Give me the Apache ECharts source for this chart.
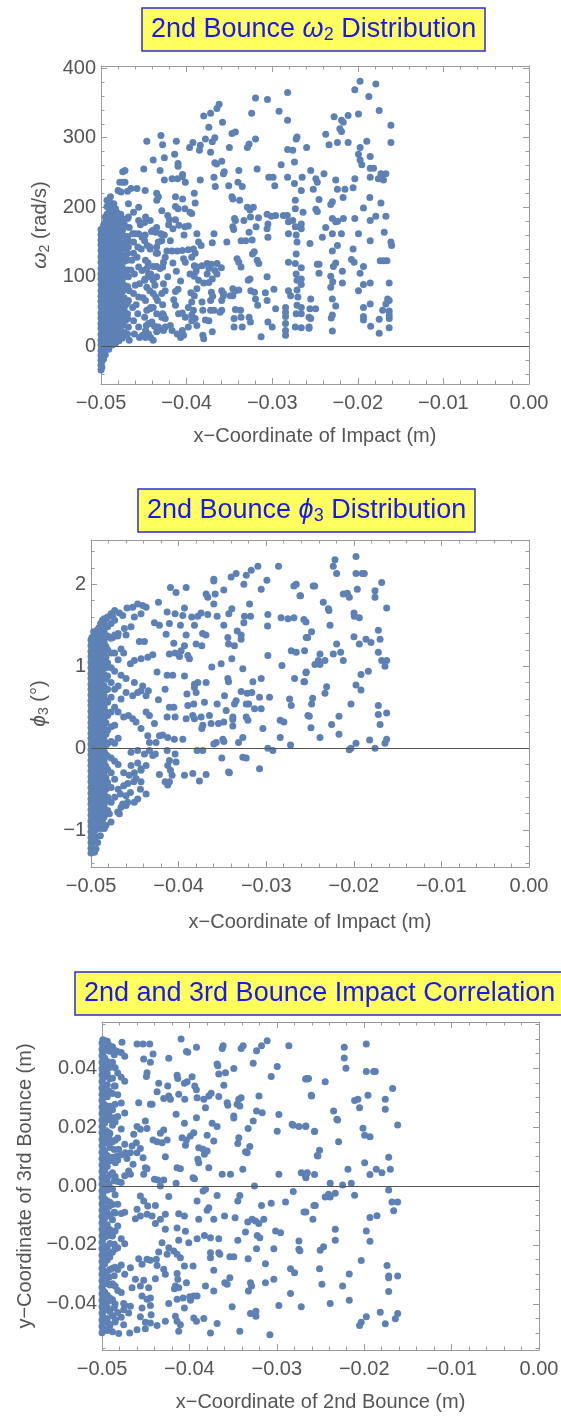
<!DOCTYPE html>
<html>
<head>
<meta charset="utf-8">
<script src="https://cdn.jsdelivr.net/npm/echarts@6.0.0/dist/echarts.min.js"></script>
<style>
  html, body { margin: 0; padding: 0; background: #fff; }
  #chart { width: 561px; height: 1418px; }
</style>
</head>
<body>
<div id="chart"></div>
<script>
// ---- axes / ticks ----
const xRange = [-0.05, 0];
const xTicks = [-0.05, -0.04, -0.03, -0.02, -0.01, 0];
const xTickLabels = ['−0.05', '−0.04', '−0.03', '−0.02', '−0.01', '0.00'];

const omegaRange = [-54, 403];
const omegaTicks = [0, 100, 200, 300, 400];
const omegaTickLabels = ['0', '100', '200', '300', '400'];

const phiRange = [-1.45, 2.54];
const phiTicks = [-1, 0, 1, 2];
const phiTickLabels = ['−1', '0', '1', '2'];

const impactRange = [-0.0557, 0.0557];
const impactTicks = [-0.04, -0.02, 0, 0.02, 0.04];
const impactTickLabels = ['−0.04', '−0.02', '0.00', '0.02', '0.04'];

// ---- panel 1: omega2 (rad/s) vs x of impact (m) ----
const omegaPts = [
  [-.0282,365],[-.03195,357],[-.03055,355],[-.0362,348],[-.03646,342],[-.0372,335],[-.038,331],[-.0324,335],[-.0292,338],[-.0282,325],
  [-.0358,322],[-.0374,315],[-.0343,308],[-.0347,306],[-.043,303],[-.04465,295],[-.0412,295],[-.0428,290],[-.03926,293],[-.03965,286],
  [-.0378,298],[-.0367,300],[-.037,294],[-.0384,289],[-.0385,282],[-.0372,279],[-.03195,298],[-.0327,291],[-.0329,286],[-.035,286],
  [-.0272,298],[-.0271,301],[-.0282,283],[-.0276,282],[-.0439,268],[-.0426,271],[-.0414,276],[-.041,263],[-.041,259],[-.0359,266],
  [-.0367,264],[-.0365,262],[-.0356,251],[-.0357,248],[-.0339,253],[-.03176,255],[-.02895,261],[-.0274,265],[-.0472,253],[-.04746,251],
  [-.045,255],[-.0431,253],[-.04047,247],[-.0405,244],[-.04105,241],[-.0417,241],[-.0426,239],[-.04015,236],[-.0384,239],[-.0368,243],
  [-.03665,230],[-.03508,231],[-.034,236],[-.0335,230],[-.0304,243],[-.0299,243],[-.0297,231],[-.0282,243],[-.0274,234],[-.0478,236],
  [-.04746,236],[-.0472,236],[-.048,224],[-.04766,222],[-.0469,223],[-.0465,227],[-.0458,227],[-.0435,220],[-.0433,215],[-.0413,215],
  [-.04047,212],[-.0391,220],[-.039,206],[-.0347,215],[-.0346,212],[-.0338,210],[-.0413,201],[-.041,198],[-.0402,198],[-.0396,193],
  [-.0394,191],[-.0422,188],[-.042,182],[-.0413,182],[-.0409,174],[-.0402,172],[-.0398,173],[-.0388,162],[-.0416,169],[-.0383,145],
  [-.0386,150],[-.0368,162],[-.037,149],[-.0353,150],[-.0346,172],[-.0345,168],[-.0344,184],[-.0343,181],[-.0329,200],[-.0326,196],
  [-.0322,200],[-.03254,186],[-.0333,181],[-.0327,164],[-.0331,152],[-.03234,153],[-.03188,172],[-.0316,185],[-.0306,190],[-.0305,176],
  [-.0306,169],[-.0296,188],[-.0301,187],[-.0305,157],[-.0287,188],[-.02824,188],[-.0281,179],[-.0276,181],[-.0281,162],[-.0273,172],
  [-.0272,160],[-.0271,150],[-.043,162],[-.0429,161],[-.0426,160],[-.0421,175],[-.0439,167],[-.0436,164],[-.0454,175],[-.0449,178],
  [-.0446,145],[-.04426,140],[-.0435,143],[-.04355,134],[-.0423,137],[-.0417,137],[-.0411,137],[-.0405,138],[-.0398,139],[-.0392,140],
  [-.039,134],[-.0427,121],[-.0416,120],[-.04035,126],[-.04015,121],[-.0394,128],[-.0391,116],[-.0388,114],[-.0382,116],[-.0376,119],
  [-.0371,118],[-.03644,119],[-.03594,113],[-.0367,109],[-.0374,112],[-.0389,108],[-.0396,104],[-.0391,101],[-.0386,95],[-.038,91],
  [-.0374,92],[-.037,97],[-.03645,104],[-.0376,104],[-.0388,83],[-.0371,78],[-.03695,72],[-.0357,73],[-.0359,66],[-.0372,66],
  [-.0382,64],[-.0395,77],[-.0391,73],[-.0394,64],[-.0398,56],[-.0413,79],[-.041,82],[-.0413,59],[-.0405,48],[-.04015,42],
  [-.04094,47],[-.0392,52],[-.0394,45],[-.039,40],[-.0394,37],[-.0388,30],[-.0398,28],[-.0405,23],[-.0411,18],[-.04035,16],
  [-.0407,13],[-.0381,16],[-.038,11],[-.037,21],[-.0378,38],[-.0381,52],[-.0372,52],[-.0368,52],[-.0374,37],[-.0419,30],
  [-.0425,28],[-.0427,23],[-.0417,23],[-.0433,28],[-.0435,21],[-.0439,9],[-.0448,13],[-.04445,18],[-.04516,16],[-.04445,33],
  [-.04406,35],[-.04375,29],[-.0427,45],[-.0429,42],[-.0425,40],[-.0439,56],[-.04465,52],[-.04426,54],[-.0439,76],[-.0436,71],
  [-.0427,90],[-.0425,80],[-.04465,85],[-.0439,95],[-.04426,100],[-.04485,97],[-.0439,115],[-.0435,115],[-.0452,109],[-.04465,112],
  [-.04445,104],[-.0464,124],[-.0458,128],[-.046,162],[-.0456,162],[-.0452,157],[-.04485,160],[-.0468,152],[-.0462,150],
  [-.03364,152],[-.0341,126],[-.0339,121],[-.03364,114],[-.0323,133],[-.0321,136],[-.03176,124],[-.03157,119],[-.0326,97],[-.0328,95],
  [-.0325,80],[-.03207,78],[-.03195,68],[-.0317,59],[-.0327,42],[-.03254,35],[-.0313,14],[-.0306,100],[-.0308,77],[-.0306,66],
  [-.0298,82],[-.0296,54],[-.0305,35],[-.03,28],[-.0346,83],[-.0343,80],[-.0339,81],[-.0346,73],[-.0349,73],[-.0343,53],
  [-.0337,52],[-.03364,42],[-.03445,40],[-.03445,28],[-.0335,28],[-.0359,80],[-.0357,76],[-.0359,52],[-.0361,49],
  [-.02844,56],[-.02844,49],[-.02844,43],[-.02844,33],[-.02844,23],[-.02844,16],[-.0281,80],[-.02785,73],[-.0281,121],
  [-.0273,210],[-.0273,198],[-.0272,133],[-.0273,119],[-.0272,104],[-.0271,95],[-.0271,81],[-.027,71],[-.0271,59],[-.0272,47],[-.0273,28],
  [-.01973,381],[-.01789,377],[-.02035,369],[-.01871,359],[-.0175,339],[-.01992,334],[-.02277,330],[-.0219,325],[-.0217,322],[-.02113,332],
  [-.02375,305],[-.0221,313],[-.0219,309],[-.02336,290],[-.02238,293],[-.02113,293],[-.01613,318],[-.01613,293],[-.01895,295],[-.01973,286],
  [-.02598,286],[-.01992,276],[-.01973,268],[-.01953,261],[-.01855,273],[-.01855,256],[-.01816,256],[-.01855,243],[-.0173,248],[-.01672,248],
  [-.0176,241],[-.017,239],[-.0173,243],[-.02395,248],[-.0255,253],[-.0249,241],[-.02473,236],[-.02258,239],[-.02035,241],[-.02055,228],
  [-.02238,226],[-.0215,226],[-.0252,226],[-.02172,214],[-.0186,214],[-.02453,211],[-.0173,206],[-.02297,208],[-.02316,204],[-.0249,197],
  [-.02473,194],[-.01934,199],[-.01672,187],[-.0179,187],[-.02035,184],[-.01855,181],[-.02297,184],[-.02258,179],[-.02236,180],[-.02168,184],
  [-.02375,171],[-.0266,176],[-.0266,169],[-.02297,162],[-.02191,162],[-.01992,162],[-.01691,164],[-.02559,148],[-.02414,157],[-.02238,145],
  [-.02055,140],[-.01855,152],[-.01613,150],[-.01605,145],[-.02297,137],[-.02074,125],[-.02043,121],[-.02473,118],[-.02453,118],[-.02453,105],
  [-.02258,120],[-.02285,115],[-.01934,115],[-.01738,123],[-.01699,123],[-.0166,123],[-.0218,108],[-.01973,105],[-.02316,101],[-.02293,93],
  [-.02316,85],[-.0218,91],[-.01934,89],[-.01992,80],[-.01855,91],[-.01633,91],[-.0266,113],[-.0266,97],[-.0266,89],[-.0255,68],
  [-.02297,68],[-.02258,58],[-.01934,56],[-.01855,61],[-.01652,68],[-.01633,66],[-.01672,61],[-.0171,52],[-.01633,51],[-.01633,45],
  [-.01633,40],[-.02559,54],[-.02493,54],[-.0266,56],[-.0266,47],[-.0257,42],[-.0255,40],[-.02297,45],[-.0231,41],[-.01934,43],
  [-.01934,38],[-.0175,39],[-.0185,29],[-.0175,19],[-.01633,27],[-.02297,22],[-.0257,28],[-.0257,26],[-.0266,27],
  [-.0265,243],[-.0266,224],[-.0264,193],
  [-.0468,205],[-.0468,186],[-.0467,171],[-.0468,143],[-.0469,124],[-.0468,100],[-.0467,80],[-.0468,66],[-.0469,47],[-.0468,28],[-.0467,9],
  [-.0462,193],[-.0463,162],[-.0462,134],[-.0461,104],[-.0462,76],[-.0463,56],[-.0462,37],[-.0461,18],
  [-.0456,200],[-.0456,181],[-.0457,143],[-.0456,114],[-.0455,90],[-.0456,71],[-.0457,47],[-.0456,28],[-.0455,13],
  [-.04484,224],[-.0448,186],[-.0449,152],[-.0448,124],[-.0449,95],[-.0448,66],[-.0449,42],[-.0448,23],
  [-.04426,181],[-.0443,143],[-.0442,104],[-.0443,80],[-.0442,56],[-.0443,33],[-.0442,13],
  [-.04348,210],[-.0435,171],[-.0434,134],[-.0435,100],[-.0434,66],[-.0435,47],[-.0434,23],
  [-.04289,195],[-.0429,152],[-.0428,114],[-.0429,76],[-.0428,47],
  [-.0465,110],[-.046,88],[-.0459,60],[-.0453,140],[-.0451,70],[-.0447,30],[-.0445,120],[-.0441,165],[-.0437,88],[-.0433,150],
  [-.0431,112],[-.0428,60],[-.0425,128],[-.0422,100],[-.0419,152],[-.0415,67],[-.0412,108],[-.0407,94],[-.0403,160]
];
// dense strip along the left edge, one list of values per x position
const omegaDenseX = [-.05, -.0497, -.0493, -.0489, -.0485, -.0481, -.0477, -.0473, -.0469];
const omegaDenseY = [
  [-34,-27,-20,-13,-6,2,9,17,26,33,41,48,57,65,72,80,89,97,104,112,121,129,138,146,153,161,168],
  [-18,-8,3,12,21,28,36,45,52,61,68,76,85,92,100,109,116,124,133,140,148,157,164,174],
  [3,11,18,27,35,44,51,59,66,75,83,92,99,107,116,123,131,140,147,155,164,171,181,190,201,210],
  [6,15,22,30,39,46,54,63,70,78,87,94,102,111,118,126,135,142,150,159,166,176,187,196,206,215],
  [8,17,26,34,44,52,61,70,78,88,96,105,114,122,132,141,150,160,170,182,194,205],
  [10,22,33,44,55,65,76,86,98,108,119,130,142,154,168,180,192],
  [14,28,40,54,67,80,92,107,120,134,148,162,176,190],
  [20,36,53,70,88,104,122,141,158,176],
  [18,40,63,86,110,134,158,184]
];
const omegaDenseX2 = [-.0499, -.0495, -.0491, -.0487, -.0483, -.0479, -.0475, -.0471];
const omegaDenseY2 = [
  [-30,-22,-16,-9,-2,5,13,21,29,37,44,53,61,69,76,85,93,101,108,117,125,133,142,150,157,165],
  [-12,0,8,16,24,32,40,48,56,64,72,80,88,96,104,112,120,128,136,144,152,160,168,178,186],
  [-4,7,15,23,31,40,47,55,63,71,79,88,95,103,112,119,127,136,143,151,160,168,178,188,199,208],
  [2,12,20,29,37,48,56,65,74,83,91,100,109,117,127,136,145,155,165,176,188,200],
  [5,16,27,38,49,59,70,81,92,103,113,124,136,148,161,174,186,198],
  [8,20,34,47,60,73,86,99,113,127,141,155,169,183],
  [12,30,46,62,79,96,113,130,148,166,184],
  [16,38,60,82,104,128,150,172]
];

// ---- panel 2: phi3 (deg) vs x of impact (m) ----
const phiPts = [
  [-.01975,2.34],[-.02215,2.30],[-.02234,2.22],[-.02196,2.13],[-.01975,2.13],[-.01903,2.13],[-.0188,2.13],[-.01682,2.02],[-.02447,1.98],[-.02463,1.98],
  [-.02615,1.86],[-.0196,1.94],[-.01758,1.92],[-.01758,1.84],[-.0212,1.88],[-.02074,1.89],[-.02051,1.84],[-.01625,1.71],[-.02348,1.78],[-.0229,1.70],
  [-.02284,1.68],[-.01998,1.65],[-.01994,1.61],[-.01937,1.59],[-.02546,1.54],[-.02272,1.50],[-.02482,1.42],[-.02527,1.35],[-.0172,1.44],[-.017,1.33],
  [-.01998,1.36],[-.01861,1.33],[-.01804,1.29],[-.01937,1.27],[-.02196,1.27],[-.02562,1.19],[-.02386,1.15],[-.02234,1.15],[-.0215,1.17],[-.0172,1.17],
  [-.02405,1.07],[-.02444,1.02],[-.02386,1.02],[-.02329,1.07],[-.0212,1.07],[-.01682,1.07],[-.01625,1.07],[-.01644,1.0],[-.02546,0.92],[-.02569,0.81],
  [-.01918,0.90],[-.01834,0.94],[-.01975,0.77],[-.01918,0.71],[-.0231,0.75],[-.02329,0.67],[-.0247,0.61],[-.02482,0.54],[-.02032,0.54],[-.0172,0.52],
  [-.0172,0.41],[-.01625,0.43],[-.017,0.29],[-.02508,0.39],[-.02169,0.39],[-.02253,0.29],[-.02489,0.25],[-.02169,0.17],[-.02386,0.13],[-.01975,0.06],
  [-.01819,0.10],[-.01625,0.11],[-.01644,0.06],[-.02051,-0.02],[-.02032,0.0],[-.01758,0.0],
  [-.02859,2.22],[-.03095,2.22],[-.03171,2.17],[-.03228,2.11],[-.03255,2.0],[-.03343,2.13],[-.034,2.09],[-.02992,2.05],[-.03598,2.06],[-.03598,2.04],
  [-.02657,2.0],[-.02684,1.98],[-.02608,1.86],[-.03057,1.94],[-.03484,1.93],[-.03583,1.88],[-.03686,1.88],[-.03667,1.84],[-.03914,1.96],[-.04029,1.90],
  [-.04093,1.96],[-.0423,1.78],[-.04467,1.76],[-.0441,1.74],[-.04371,1.72],[-.04589,1.71],[-.04524,1.72],[-.03598,1.76],[-.0319,1.76],[-.03392,1.70],
  [-.03427,1.64],[-.03933,1.71],[-.03952,1.62],[-.04131,1.66],[-.0404,1.64],[-.03743,1.65],[-.03667,1.63],[-.0356,1.61],[-.0385,1.60],[-.03781,1.61],
  [-.03248,1.61],[-.03179,1.61],[-.02981,1.63],[-.0283,1.59],[-.02752,1.58],[-.02684,1.59],[-.0257,1.57],[-.04752,1.61],[-.04676,1.65],[-.04638,1.62],
  [-.04505,1.60],[-.04429,1.64],[-.04276,1.53],[-.04219,1.50],[-.04105,1.52],[-.03979,1.50],[-.03819,1.50],[-.03484,1.50],[-.03255,1.53],[-.02985,1.49],
  [-.03331,1.43],[-.03286,1.38],[-.03726,1.40],[-.03688,1.38],[-.03914,1.38],[-.04143,1.39],[-.04619,1.46],[-.04543,1.48],[-.046,1.38],[-.0481,1.37],
  [-.04752,1.35],[-.04695,1.37],[-.04448,1.30],[-.0439,1.30],[-.04055,1.28],[-.03933,1.25],[-.03971,1.19],[-.038,1.27],[-.03735,1.25],[-.03438,1.35],
  [-.0343,1.27],[-.03362,1.25],[-.03286,1.33],[-.02714,1.19],[-.02657,1.17],[-.02543,1.35],[-.04657,1.21],[-.04627,1.16],[-.04105,1.15],[-.0404,1.16],
  [-.0399,1.12],[-.03895,1.13],[-.03876,1.09],[-.03514,1.03],[-.03392,1.09],[-.03621,0.99],[-.02981,1.13],[-.0282,1.01],[-.0455,1.03],[-.04505,1.07],
  [-.04429,1.09],[-.04352,1.11],[-.04295,1.14],[-.04246,0.93],[-.04131,0.89],[-.04067,0.89],[-.03933,0.88],[-.03819,0.78],[-.03781,0.80],[-.03686,0.80],
  [-.03438,0.85],[-.0343,0.81],[-.03267,0.97],[-.03152,0.81],[-.03057,0.85],[-.02676,0.85],[-.02562,0.81],[-.02543,0.93],[-.04657,0.89],[-.046,0.85],
  [-.04505,0.80],[-.0441,0.76],[-.04429,0.70],[-.046,0.68],[-.04657,0.60],[-.04524,0.64],[-.04467,0.68],[-.04345,0.70],[-.04371,0.64],[-.0423,0.59],
  [-.04154,0.72],[-.03905,0.66],[-.038,0.68],[-.03819,0.74],[-.03895,0.52],[-.03827,0.54],[-.03705,0.56],[-.0356,0.54],[-.03476,0.64],[-.03362,0.54],
  [-.03343,0.58],[-.03286,0.69],[-.03217,0.67],[-.03164,0.68],[-.03228,0.54],[-.032,0.54],[-.03076,0.62],[-.02962,0.62],[-.03133,0.48],[-.03057,0.48],
  [-.02733,0.60],[-.02714,0.52],[-.02524,0.40],[-.04105,0.50],[-.04055,0.50],[-.04131,0.38],[-.0404,0.38],[-.03914,0.36],[-.03838,0.40],[-.03819,0.36],
  [-.03743,0.38],[-.03724,0.28],[-.03735,0.24],[-.03648,0.40],[-.03629,0.30],[-.03545,0.30],[-.03484,0.32],[-.03381,0.35],[-.03381,0.27],[-.03381,0.38],
  [-.03457,0.46],[-.03228,0.38],[-.03209,0.34],[-.03038,0.24],[-.03267,0.13],[-.0284,0.34],[-.02798,0.32],[-.0284,0.13],[-.02722,0.04],[-.04627,0.38],
  [-.04573,0.40],[-.04524,0.36],[-.04486,0.32],[-.04371,0.44],[-.04333,0.40],[-.04429,0.24],[-.04276,0.30],[-.04352,0.15],[-.04219,0.15],[-.04181,0.16],
  [-.04124,0.13],[-.04048,0.11],[-.03952,0.11],[-.04333,0.07],[-.04257,0.07],[-.03598,0.05],[-.03571,0.07],[-.03495,0.11],[-.03484,0.08],[-.03316,0.07],
  [-.02981,0.0],[-.02924,-0.03],[-.04543,-0.05],[-.04467,-0.03],[-.0439,-0.07],[-.04333,-0.03],[-.04295,-0.09],[-.04265,-0.07],[-.04467,-0.18],[-.04371,-0.21],
  [-.04429,-0.25],[-.04543,-0.21],[-.04131,-0.03],[-.0404,-0.07],[-.04105,-0.15],[-.04124,-0.21],[-.03789,-0.03],[-.03724,-0.03],[-.04029,-0.17],[-.04093,-0.27],
  [-.04074,-0.33],[-.03933,-0.33],[-.03838,-0.31],[-.03762,-0.40],[-.03686,-0.32],[-.04219,-0.32],[-.04154,-0.41],[-.04105,-0.41],[-.04124,-0.45],[-.03507,-0.12],
  [-.03267,-0.11],[-.03228,-0.12],[-.0343,-0.29],[-.0342,-0.30],[-.03076,-0.25],[-.04627,-0.30],[-.04562,-0.33],[-.04505,-0.30],[-.04429,-0.27],[-.04486,-0.37],
  [-.04429,-0.41],[-.04512,-0.41],[-.04581,-0.43],[-.04627,-0.46],[-.04436,-0.50],[-.04371,-0.56],[-.0455,-0.54],[-.046,-0.58],[-.04581,-0.66],[-.04467,-0.62],
  [-.04505,-0.66],[-.04665,-0.56],[-.04638,-0.68],[-.04657,-0.72],[-.046,-0.70],[-.04695,-0.78],[-.04676,-0.80],[-.04771,-0.90],[-.0479,-0.80],[-.04829,-0.94],
  [-.04848,-0.98],[-.04886,-0.98],[-.04893,-1.07],[-.04924,-1.15],[-.04943,-1.23],[-.04962,-1.27]
];
const phiDenseX = [-.05, -.0497, -.0493, -.0489, -.0485, -.0481, -.0477, -.0473, -.0469];
const phiDenseY = [
  [-1.28,-1.22,-1.15,-1.09,-1.02,-0.95,-0.89,-0.82,-0.75,-0.68,-0.62,-0.55,-0.48,-0.41,-0.35,-0.28,-0.21,-0.15,-0.08,-0.02,
   0.05,0.12,0.18,0.25,0.31,0.38,0.45,0.52,0.58,0.65,0.72,0.78,0.85,0.91,0.98,1.05,1.12,1.18,1.25,1.32],
  [-1.05,-0.97,-0.89,-0.81,-0.73,-0.65,-0.57,-0.49,-0.41,-0.33,-0.25,-0.17,-0.09,-0.01,0.07,0.15,0.23,0.31,0.39,0.47,
   0.55,0.63,0.71,0.79,0.87,0.95,1.03,1.11,1.19,1.27,1.36,1.42],
  [-0.98,-0.88,-0.78,-0.70,-0.60,-0.50,-0.42,-0.32,-0.22,-0.14,-0.04,0.06,0.14,0.24,0.34,0.42,0.52,0.62,0.70,0.80,
   0.90,0.98,1.08,1.18,1.26,1.36,1.44],
  [-0.92,-0.80,-0.68,-0.58,-0.46,-0.34,-0.24,-0.12,0.0,0.10,0.22,0.34,0.44,0.56,0.68,0.78,0.90,1.02,1.12,1.24,1.36,1.46,1.52],
  [-0.84,-0.70,-0.56,-0.44,-0.30,-0.16,-0.04,0.10,0.24,0.36,0.50,0.64,0.76,0.90,1.04,1.16,1.30,1.42,1.52,1.58],
  [-0.76,-0.60,-0.42,-0.26,-0.10,0.06,0.22,0.40,0.56,0.72,0.88,1.04,1.20,1.36,1.48,1.60],
  [-0.66,-0.48,-0.30,-0.12,0.08,0.26,0.44,0.62,0.80,0.98,1.16,1.34,1.52,1.64],
  [-0.60,-0.38,-0.16,0.06,0.28,0.50,0.72,0.94,1.16,1.38,1.56,1.68],
  [-0.50,-0.20,0.12,0.44,0.76,1.08,1.40]
];
const phiDenseX2 = [-.0499, -.0495, -.0491, -.0487, -.0483];
const phiDenseY2 = [
  [-1.25,-1.18,-1.12,-1.05,-0.98,-0.92,-0.85,-0.78,-0.72,-0.65,-0.58,-0.52,-0.45,-0.38,-0.31,-0.25,-0.18,-0.11,-0.05,0.02,
   0.08,0.15,0.22,0.28,0.35,0.42,0.48,0.55,0.62,0.68,0.75,0.82,0.88,0.95,1.02,1.08,1.15,1.22,1.28,1.35],
  [-1.08,-1.0,-0.93,-0.85,-0.77,-0.69,-0.61,-0.53,-0.45,-0.37,-0.29,-0.21,-0.13,-0.05,0.03,0.11,0.19,0.27,0.35,0.43,
   0.51,0.59,0.67,0.75,0.83,0.91,0.99,1.07,1.15,1.23,1.31,1.39],
  [-0.95,-0.84,-0.74,-0.65,-0.55,-0.46,-0.37,-0.27,-0.18,-0.09,0.01,0.10,0.19,0.29,0.38,0.47,0.57,0.66,0.75,0.85,
   0.94,1.03,1.13,1.22,1.31,1.40,1.47],
  [-0.88,-0.75,-0.63,-0.51,-0.40,-0.28,-0.17,-0.05,0.06,0.17,0.29,0.40,0.51,0.62,0.73,0.84,0.96,1.07,1.18,1.30,1.41,1.50,1.56],
  [-0.80,-0.65,-0.50,-0.36,-0.22,-0.08,0.04,0.17,0.31,0.44,0.58,0.71,0.84,0.98,1.11,1.24,1.37,1.49,1.58]
];

// ---- panel 3: y of 3rd bounce (m) vs x of 2nd bounce (m) ----
const impactPts = [
  [-.01976,.0482],[-.02228,.0471],[-.02228,.0435],[-.02209,.04],[-.01976,.0389],[-.01892,.0389],[-.01873,.0389],[-.02656,.0365],[-.02637,.0365],[-.02446,.0354],
  [-.01675,.0331],[-.02606,.0308],[-.0211,.029],[-.02072,.0295],[-.02053,.0266],[-.01957,.0308],[-.01759,.0295],[-.01759,.0261],[-.0235,.0255],[-.02312,.0227],
  [-.02305,.0224],[-.02667,.0204],[-.01617,.0207],[-.02568,.0185],[-.02014,.0196],[-.01995,.0172],[-.01934,.0167],[-.02293,.015],[-.02511,.0121],[-.0253,.0102],
  [-.0172,.0098],[-.01995,.0079],[-.02186,.0057],[-.01701,.0057],[-.01862,.0057],[-.01797,.0045],[-.01934,.0039],[-.02656,.0043],[-.02667,.0028],[-.02568,.0039],
  [-.02389,.0009],[-.02247,.0003],[-.02148,.0009],[-.0172,-.0014],[-.0211,-.0031],[-.02446,-.0037],[-.02408,-.0028],[-.02389,-.0037],[-.02331,-.0025],[-.01682,-.0054],
  [-.01617,-.0054],[-.01663,-.0084],[-.0256,-.0066],[-.02667,-.0088],[-.02587,-.0113],[-.01934,-.0107],[-.01854,-.0101],[-.02331,-.0147],[-.02331,-.0184],[-.01976,-.0153],
  [-.01934,-.0188],[-.02503,-.0218],[-.02465,-.0206],[-.02034,-.0253],[-.02511,-.0281],[-.01739,-.027],[-.0172,-.0306],[-.0172,-.0312],[-.01617,-.0306],[-.02171,-.0299],
  [-.02484,-.0334],[-.02247,-.034],[-.0172,-.0358],[-.02389,-.0399],[-.02171,-.0388],[-.01816,-.0429],[-.01617,-.0433],[-.01644,-.0451],[-.01976,-.0444],[-.02034,-.0463],
  [-.02053,-.0474],[-.01759,-.0468],
  [-.04095,.0499],[-.04771,.0488],[-.04599,.0482],[-.0453,.0482],[-.04454,.0482],[-.04034,.0457],[-.04019,.0454],[-.03919,.0471],[-.03614,.0476],[-.03625,.0467],
  [-.03385,.0476],[-.03408,.0467],[-.03175,.0476],[-.0311,.0493],[-.03232,.0459],[-.02862,.0476],[-.04416,.0448],[-.04236,.0434],[-.04446,.042],[-.04523,.0431],
  [-.03683,.0414],[-.03675,.0408],[-.03587,.0385],[-.03664,.038],[-.03492,.0399],[-.0327,.0417],[-.02995,.0406],[-.03064,.0372],[-.02671,.0363],[-.02652,.0363],
  [-.04141,.0376],[-.04133,.0365],[-.04057,.0349],[-.04026,.0354],[-.03969,.0371],[-.03939,.034],[-.0392,.0327],[-.03606,.0342],[-.04248,.034],[-.04351,.0349],
  [-.04485,.0385],[-.04492,.0372],[-.0437,.032],[-.04294,.0297],[-.04236,.0306],[-.04217,.0295],[-.04122,.0312],[-.04053,.0295],[-.03912,.03],[-.03835,.0295],
  [-.03778,.0306],[-.03751,.0315],[-.03568,.0283],[-.0356,.0274],[-.03664,.0304],[-.03435,.0295],[-.03408,.03],[-.03454,.0278],[-.03423,.0272],[-.03204,.0306],
  [-.02602,.0306],[-.04446,.0278],[-.04427,.0278],[-.0458,.0283],[-.04152,.0244],[-.03919,.0232],[-.03816,.0266],[-.03492,.0238],[-.03492,.0231],[-.03232,.0255],
  [-.03167,.0249],[-.02976,.0243],[-.0327,.0221],[-.03328,.0195],[-.02995,.0186],[-.02824,.021],[-.02812,.0206],[-.02747,.0202],[-.02671,.0202],[-.02568,.0186],
  [-.04504,.0221],[-.04485,.0195],[-.04057,.0213],[-.0374,.0213],[-.03683,.0202],[-.04599,.0202],[-.04561,.0193],[-.04637,.0176],[-.04294,.019],[-.04332,.0179],
  [-.04255,.0156],[-.04313,.0147],[-.0437,.015],[-.04416,.0156],[-.04084,.0164],[-.04034,.0156],[-.04045,.0138],[-.03988,.017],[-.0395,.0181],[-.03797,.0172],
  [-.03721,.0153],[-.03893,.013],[-.03843,.0125],[-.03828,.0108],[-.03797,.0119],[-.03435,.0164],[-.03446,.0144],[-.03309,.0134],[-.03358,.0116],[-.03339,.0113],
  [-.04607,.0147],[-.04599,.0113],[-.04656,.0136],[-.04675,.0113],[-.04733,.0113],[-.04714,.0093],[-.04809,.0125],[-.04828,.0102],[-.04847,.0079],[-.04561,.0127],
  [-.0453,.0096],[-.04275,.0099],[-.04141,.0062],[-.04103,.0059],[-.03893,.0079],[-.03904,.0091],[-.03778,.0062],[-.04645,.0074],[-.04675,.004],[-.04695,.0051],
  [-.04485,.0059],[-.04523,.004],[-.04504,.0062],[-.044,.0023],[-.04362,.002],[-.04294,.002],[-.04332,0],[-.04152,.0009],[-.03958,.0028],[-.03942,.0025],
  [-.03625,.004],[-.0353,.004],[-.03389,.0057],[-.02976,.004],[-.0272,.0045],[-.02671,.0034],[-.02652,.0045],[-.02537,.0104],
  [-.03843,-.0017],[-.03816,-.0011],[-.03255,0],[-.04236,-.0036],[-.03912,-.0051],[-.03797,-.0082],[-.03778,-.0074],[-.03683,-.0032],[-.03423,-.0032],[-.03446,-.0051],
  [-.03175,-.0066],[-.03064,-.0059],[-.029,-.0054],[-.02812,-.0019],[-.02575,-.0066],[-.02689,-.0088],[-.04561,-.0034],[-.04523,-.0051],[-.04477,-.0068],[-.04599,-.0079],
  [-.04618,-.0111],[-.04561,-.0102],[-.04485,-.0096],[-.04427,-.0102],[-.04389,-.0066],[-.04275,-.0096],[-.04332,-.0113],[-.04389,-.0127],[-.04122,-.0094],[-.04057,-.0102],
  [-.04045,-.0154],[-.04141,-.0143],[-.04275,-.0147],[-.03721,-.0113],[-.03893,-.0113],[-.03598,-.0102],[-.03477,-.0108],[-.03332,-.0122],[-.03282,-.0113],[-.03244,-.0119],
  [-.03206,-.0127],[-.03148,-.0113],[-.03358,-.0156],[-.03224,-.0168],[-.03194,-.0176],[-.03014,-.0153],[-.02957,-.0159],[-.03912,-.0179],[-.03828,-.0168],[-.03759,-.0176],
  [-.03664,-.0179],[-.04122,-.0184],[-.04007,-.0193],[-.03446,-.0184],[-.02747,-.0187],[-.02747,-.0215],[-.02736,-.022],[-.04313,-.0193],[-.04236,-.021],[-.04179,-.0221],
  [-.04255,-.0232],[-.04351,-.0224],[-.04378,-.0249],[-.04446,-.0252],[-.04485,-.0249],[-.0458,-.0247],[-.04542,-.0266],[-.04675,-.0278],[-.04141,-.0232],[-.04103,-.0244],
  [-.04057,-.0272],[-.03958,-.0272],[-.03759,-.0227],[-.03664,-.0227],[-.03652,-.0232],[-.03759,-.0244],[-.03537,-.024],[-.03492,-.024],[-.03328,-.0247],[-.03232,-.0213],
  [-.03034,-.0213],[-.0313,-.0264],[-.03721,-.0286],[-.04294,-.0283],[-.04275,-.03],[-.0437,-.027],[-.04389,-.0315],[-.04141,-.0297],[-.04133,-.0317],[-.04034,-.0329],
  [-.04618,-.0317],[-.04523,-.032],[-.04561,-.034],[-.04656,-.0346],[-.04466,-.0346],[-.04542,-.0374],[-.04485,-.0385],[-.04446,-.038],[-.0416,-.034],[-.04122,-.0346],
  [-.04171,-.0349],[-.03996,-.0376],[-.0395,-.0374],[-.03912,-.0374],[-.03988,-.0388],[-.03816,-.034],[-.03721,-.0357],[-.03595,-.0329],[-.03537,-.0312],[-.03568,-.0334],
  [-.03301,-.0329],[-.03289,-.034],[-.03325,-.0357],[-.0313,-.0329],[-.03034,-.0317],[-.02843,-.0281],[-.02797,-.0295],[-.02843,-.0365],[-.04236,-.0399],[-.04141,-.0385],
  [-.04072,-.038],[-.04057,-.0414],[-.0395,-.0448],[-.03919,-.0459],[-.03835,-.045],[-.03683,-.0467],[-.03511,-.041],[-.03301,-.0433],[-.03239,-.0425],[-.03239,-.0442],
  [-.02976,-.0406],[-.0272,-.041],[-.04752,-.0399],[-.04675,-.0408],[-.04695,-.0431],[-.04752,-.042],[-.04542,-.0414],[-.04446,-.0406],[-.04438,-.0437],[-.04561,-.0444],
  [-.04504,-.0463],[-.04446,-.0465],[-.04504,-.0485],[-.0437,-.0474],[-.04275,-.0459],[-.0416,-.0442],[-.04141,-.0459],[-.04122,-.0493],[-.04103,-.0471],[-.03759,-.0499],
  [-.03423,-.0493],[-.03079,-.0505],[-.04847,-.0454],[-.04752,-.0471],[-.04809,-.0501],[-.04683,-.0499],[-.04599,-.0488]
];
const impactDenseX = [-.05, -.0497, -.0494, -.0491, -.0488, -.0485, -.0482, -.0478, -.0474];
const impactDenseY = [
  [-.0498,-.0476,-.0455,-.0431,-.041,-.0388,-.0366,-.0344,-.0322,-.03,-.0279,-.0256,-.0235,-.0212,-.0191,-.0169,-.0147,-.0125,-.0104,-.0082,
   -.006,-.0038,-.0016,.0006,.0028,.005,.0071,.0093,.0115,.0137,.0159,.0181,.0202,.0224,.0246,.0268,.029,.0311,.0333,.0355,.0377,.0398,.042,.0442,.0464,.0486],
  [-.0487,-.0459,-.0422,-.0396,-.036,-.0332,-.0298,-.0265,-.0236,-.0204,-.0173,-.0141,-.011,-.0076,-.0044,-.0012,.002,.0053,.0085,.0116,
   .0149,.018,.0213,.0243,.0276,.0307,.0339,.0371,.0403,.0436,.0468,.0494],
  [-.0491,-.045,-.0412,-.0371,-.033,-.029,-.0251,-.0211,-.017,-.0132,-.009,-.0051,-.0014,.0026,.0066,.0104,.0146,.0185,.0224,.0263,
   .0303,.0344,.0382,.0423,.0461,.0492],
  [-.0475,-.0426,-.038,-.0336,-.0284,-.0241,-.0195,-.0148,-.0102,-.0055,-.0009,.0038,.0086,.0131,.0179,.0226,.0271,.0318,.0364,.0412,.0458],
  [-.0495,-.0441,-.0386,-.0332,-.0279,-.0225,-.017,-.0115,-.0063,-.001,.0045,.0098,.015,.0206,.0259,.0314,.0366,.042,.0473],
  [-.0462,-.0401,-.034,-.0276,-.0214,-.0153,-.0092,-.003,.0032,.0094,.0155,.0217,.0278,.034,.0402,.046],
  [-.043,-.0355,-.0284,-.021,-.0136,-.0062,.0015,.0088,.0163,.0236,.031,.0384,.0456],
  [-.0446,-.0362,-.0268,-.0179,-.0093,.0012,.0106,.0194,.0282,.0369,.0453],
  [-.0405,-.03,-.0196,-.0089,.0035,.0142,.0248,.0356,.0441]
];
const impactDenseX2 = [-.0499, -.0492, -.0486];
const impactDenseY2 = [
  [-.0487,-.0465,-.0443,-.0421,-.0399,-.0377,-.0355,-.0333,-.0311,-.0289,-.0267,-.0245,-.0223,-.0201,-.018,-.0158,-.0136,-.0114,-.0093,-.0071,
   -.0049,-.0027,-.0005,.0017,.0039,.0061,.0082,.0104,.0126,.0148,.017,.0192,.0213,.0235,.0257,.0279,.03,.0322,.0344,.0366,.0388,.0409,.0431,.0453,.0475,.0497],
  [-.0468,-.0391,-.031,-.0231,-.0151,-.007,.0006,.0085,.0165,.0243,.0323,.0402,.0479],
  [-.0413,-.0305,-.0198,-.0089,.0018,.0124,.0232,.034,.0446]
];

// ---- look ----
const dotColor = '#5E81B5';
const frameColor = '#9b9b9b';
const labelColor = '#555555';
const font = '"Liberation Sans", Arial, sans-serif';

function denseToPairs(xs, ys) {
  const out = [];
  xs.forEach((x, i) => ys[i].forEach(y => out.push([x, y])));
  return out;
}

function tickFormatter(ticks, labels) {
  return v => {
    const i = ticks.findIndex(t => Math.abs(t - v) < 1e-9);
    return i < 0 ? '' : labels[i];
  };
}

function xAxisFor(grid, pos, name, nameGap) {
  return {
    type: 'value', gridIndex: grid, position: pos,
    min: xRange[0], max: xRange[1], interval: 0.01,
    axisLine: { show: true, onZero: false, lineStyle: { color: frameColor, width: 1 } },
    axisTick: { show: true, inside: true, length: 6, lineStyle: { color: frameColor } },
    minorTick: { show: true, splitNumber: 5, length: 3.5, lineStyle: { color: frameColor } },
    splitLine: { show: false },
    axisLabel: {
      show: pos === 'bottom', color: labelColor, fontSize: 20, fontFamily: font, margin: 9,
      formatter: tickFormatter(xTicks, xTickLabels)
    },
    name: pos === 'bottom' ? name : '',
    nameLocation: 'middle', nameGap: nameGap, nameMoveOverlap: false,
    nameTextStyle: { color: labelColor, fontSize: 20, fontFamily: font }
  };
}

function yAxisFor(grid, pos, range, step, minorSplit, ticks, labels, name, nameGap, nameRich) {
  return {
    type: 'value', gridIndex: grid, position: pos,
    min: range[0], max: range[1], minInterval: step, maxInterval: step,
    axisLine: { show: true, onZero: false, lineStyle: { color: frameColor, width: 1 } },
    axisTick: { show: true, inside: true, length: 6, lineStyle: { color: frameColor } },
    minorTick: { show: true, splitNumber: minorSplit, length: 3.5, lineStyle: { color: frameColor } },
    splitLine: { show: false },
    axisLabel: {
      show: pos === 'left', color: labelColor, fontSize: 20, fontFamily: font, margin: 5,
      showMinLabel: false, showMaxLabel: false,
      formatter: tickFormatter(ticks, labels)
    },
    name: pos === 'left' ? name : '',
    nameLocation: 'middle', nameGap: nameGap, nameMoveOverlap: false,
    nameTextStyle: { color: labelColor, fontSize: 20, fontFamily: font, rich: nameRich || {} }
  };
}

const subRich = {
  i: { fontStyle: 'italic', fontSize: 21, color: labelColor, fontFamily: font },
  s: { fontSize: 14, color: labelColor, fontFamily: font, padding: [9, 0, 0, 0] }
};

const titleColor = '#1818f0';
function titleBox(text, left, top) {
  return {
    text: text, left: left, top: top,
    backgroundColor: '#ffff5e', borderColor: '#2c2cd6', borderWidth: 1.5,
    padding: [6, 9, 6, 9],
    textStyle: {
      color: titleColor, fontSize: 27, fontWeight: 'normal', fontFamily: font, lineHeight: 31,
      rich: {
        i: { fontStyle: 'italic', fontSize: 27, color: titleColor, fontFamily: font },
        s: { fontSize: 18, color: titleColor, fontFamily: font, padding: [11, 0, 0, 0] }
      }
    }
  };
}

function zeroLineSeries(p) {
  return {
    type: 'scatter', xAxisIndex: 2 * p, yAxisIndex: 2 * p, data: [], z: 1, silent: true,
    markLine: {
      silent: true, symbol: 'none', animation: false, label: { show: false },
      lineStyle: { color: '#555555', width: 1, type: 'solid' },
      data: [{ yAxis: 0 }]
    }
  };
}

function dotSeries(p, data) {
  return {
    type: 'scatter', xAxisIndex: 2 * p, yAxisIndex: 2 * p, data: data, z: 2,
    symbol: 'circle', symbolSize: 7, silent: true, clip: false,
    itemStyle: { color: dotColor, opacity: 1 },
    large: false
  };
}

const omegaData = omegaPts
  .concat(denseToPairs(omegaDenseX, omegaDenseY))
  .concat(denseToPairs(omegaDenseX2, omegaDenseY2));
const phiData = phiPts
  .concat(denseToPairs(phiDenseX, phiDenseY))
  .concat(denseToPairs(phiDenseX2, phiDenseY2));
const impactData = impactPts
  .concat(denseToPairs(impactDenseX, impactDenseY))
  .concat(denseToPairs(impactDenseX2, impactDenseY2));

const chart = echarts.init(document.getElementById('chart'), null, { renderer: 'canvas' });
chart.setOption({
  backgroundColor: '#ffffff',
  animation: false,
  title: [
    titleBox('2nd Bounce {i|ω}{s|2} Distribution', 142, 8),
    titleBox('2nd Bounce {i|ϕ}{s|3} Distribution', 138, 489),
    titleBox('2nd and 3rd Bounce Impact Correlation', 75, 972)
  ],
  grid: [
    { left: 101, top: 66, width: 428, height: 318, outerBoundsMode: 'none' },
    { left: 91, top: 540, width: 438, height: 327, outerBoundsMode: 'none' },
    { left: 102, top: 1022, width: 437, height: 328, outerBoundsMode: 'none' }
  ],
  xAxis: [
    xAxisFor(0, 'bottom', 'x−Coordinate of Impact (m)', 42),
    xAxisFor(0, 'top', '', 0),
    xAxisFor(1, 'bottom', 'x−Coordinate of Impact (m)', 45),
    xAxisFor(1, 'top', '', 0),
    xAxisFor(2, 'bottom', 'x−Coordinate of 2nd Bounce (m)', 42),
    xAxisFor(2, 'top', '', 0)
  ],
  yAxis: [
    yAxisFor(0, 'left', omegaRange, 100, 5, omegaTicks, omegaTickLabels, '{i|ω}{s|2} (rad/s)', 49, subRich),
    yAxisFor(0, 'right', omegaRange, 100, 5, omegaTicks, omegaTickLabels, '', 0),
    yAxisFor(1, 'left', phiRange, 1, 5, phiTicks, phiTickLabels, '{i|ϕ}{s|3} (°)', 40, subRich),
    yAxisFor(1, 'right', phiRange, 1, 5, phiTicks, phiTickLabels, '', 0),
    yAxisFor(2, 'left', impactRange, 0.02, 4, impactTicks, impactTickLabels, 'y−Coordinate of 3rd Bounce (m)', 67),
    yAxisFor(2, 'right', impactRange, 0.02, 4, impactTicks, impactTickLabels, '', 0)
  ],
  series: [
    zeroLineSeries(0),
    dotSeries(0, omegaData),
    zeroLineSeries(1),
    dotSeries(1, phiData),
    zeroLineSeries(2),
    dotSeries(2, impactData)
  ]
});
window.addEventListener('resize', chart.resize);
</script>
</body>
</html>
